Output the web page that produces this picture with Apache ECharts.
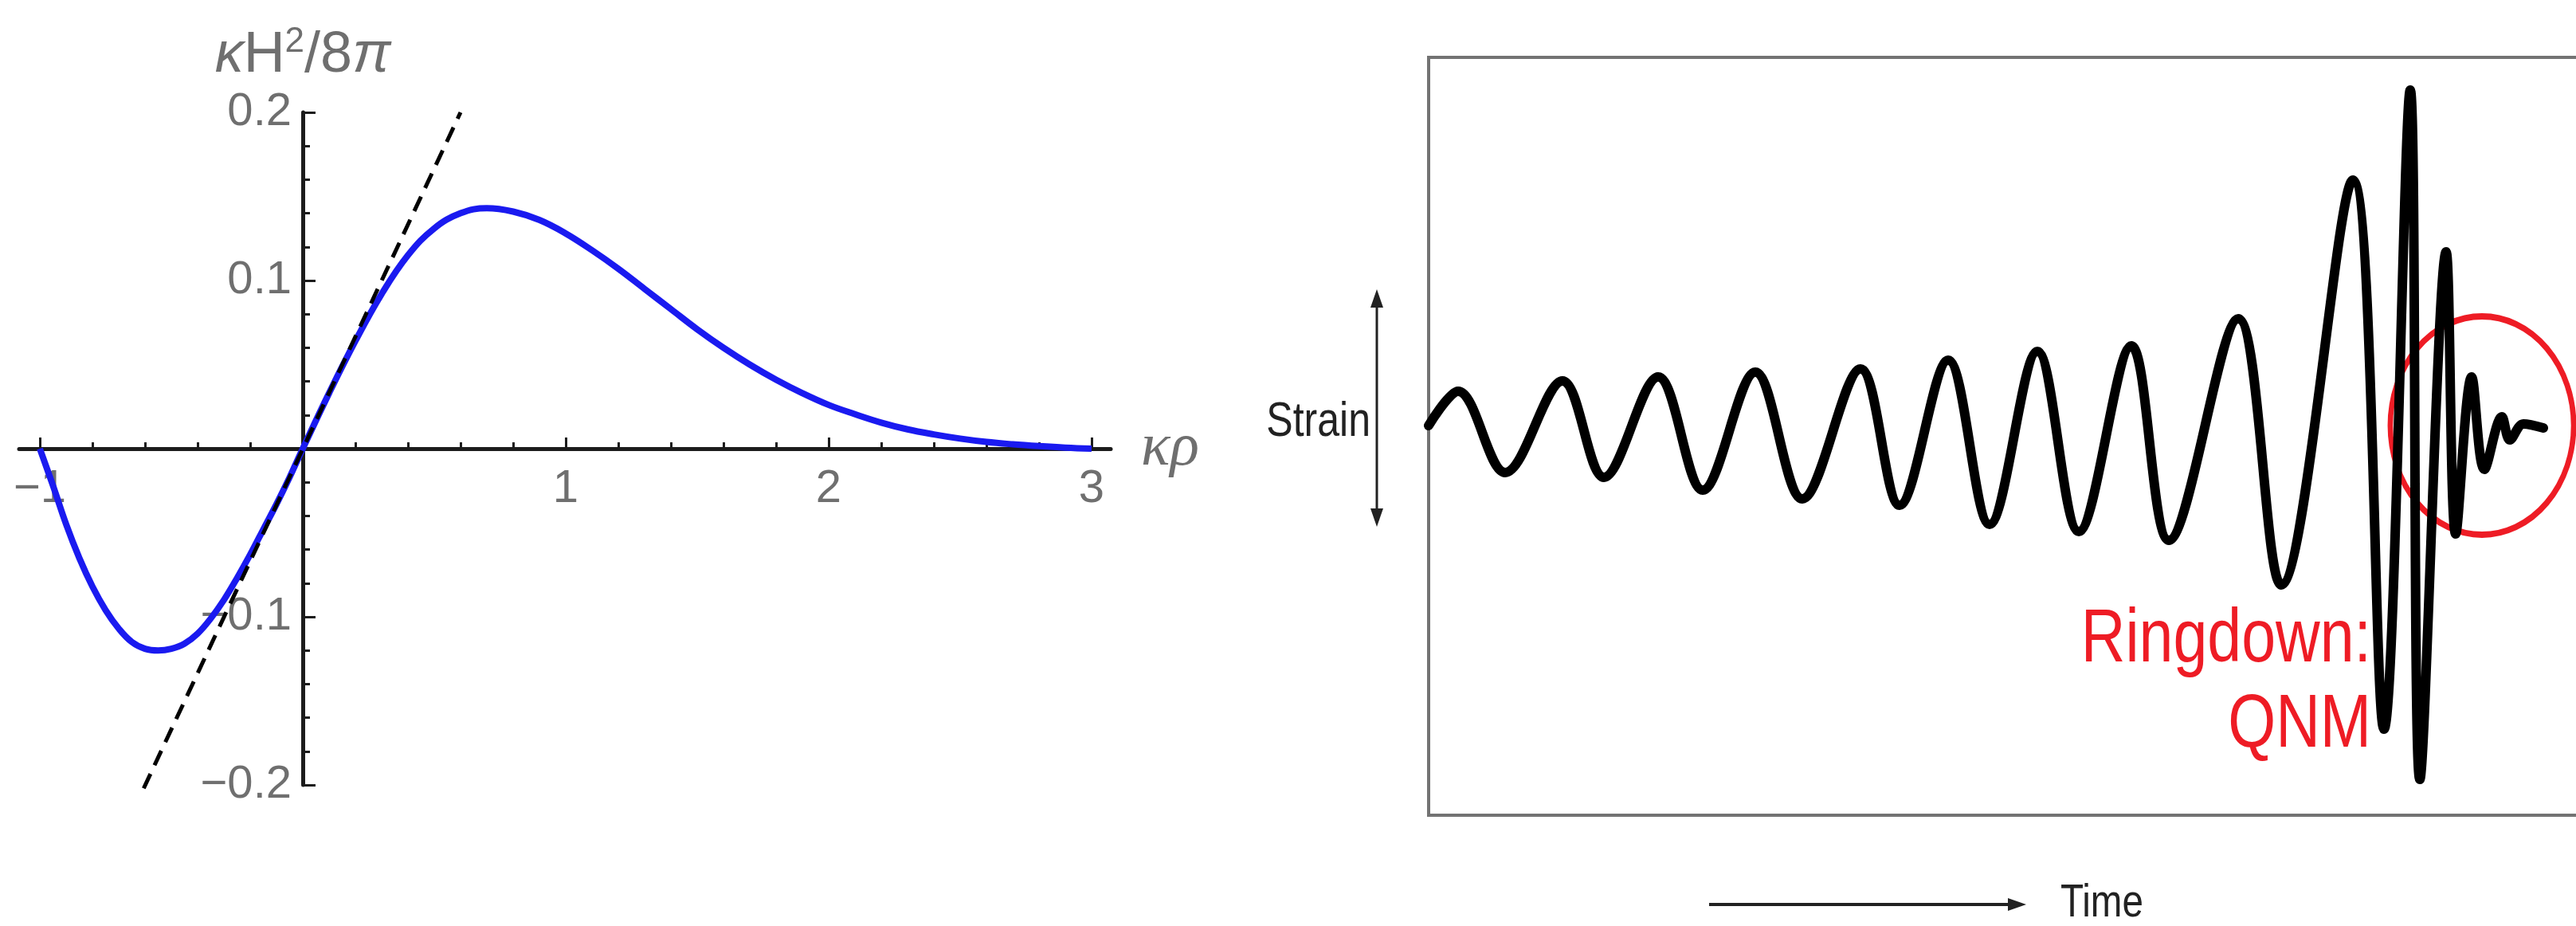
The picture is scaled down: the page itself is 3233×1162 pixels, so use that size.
<!DOCTYPE html>
<html>
<head>
<meta charset="utf-8">
<script src="https://cdn.jsdelivr.net/npm/echarts@6/dist/echarts.min.js"></script>
<style>
  html, body { margin: 0; padding: 0; background: #fff; }
  #chart { width: 3233px; height: 1162px; }
</style>
</head>
<body>
<div id="chart"></div>
<script>
// left panel: kH^2/8pi against k*rho
const rho = [-1, -0.95, -0.9, -0.85, -0.8, -0.75, -0.7, -0.65, -0.6, -0.55, -0.5, -0.45, -0.4, -0.35, -0.3,
  -0.25, -0.2, -0.15, -0.1, -0.05, 0, 0.1, 0.2, 0.3, 0.4, 0.5, 0.6, 0.7, 0.8, 0.9, 1.0,
  1.1, 1.2, 1.3, 1.4, 1.5, 1.6, 1.7, 1.8, 1.9, 2.0, 2.1, 2.2, 2.3, 2.4, 2.5, 2.6, 2.7, 2.8, 2.9, 3.0]
const hubble = [0, -0.022, -0.045, -0.065, -0.082, -0.096, -0.107, -0.115, -0.119, -0.12, -0.119, -0.116, -0.11, -0.101, -0.09,
  -0.077, -0.063, -0.048, -0.033, -0.017, 0, 0.033, 0.064, 0.092, 0.115, 0.131, 0.14, 0.143, 0.141, 0.136, 0.128,
  0.118, 0.107, 0.095, 0.083, 0.071, 0.06, 0.05, 0.041, 0.033, 0.026, 0.0205, 0.0155, 0.0115, 0.0085, 0.006, 0.004, 0.0026, 0.0015, 0.0006, 0]
// dashed tangent line at the origin
const tangentX = [-0.605, 0.6]
const tangentY = [-0.202, 0.2]
const xTickLabels = [-1, 1, 2, 3]
const yTickLabels = [-0.2, -0.1, 0.1, 0.2]

// right panel: strain waveform (peaks and troughs)
const time = [0, 3.7, 9.6, 16.8, 22.0, 28.8, 34.4, 41.0, 46.9, 54.2, 59.1, 65.2, 70.4, 76.4, 81.6, 88.2, 92.9,
  101.6, 107.0, 116.0, 119.9, 123.2, 124.4, 127.7, 128.9, 130.9, 132.5, 134.7, 135.7, 137.4, 139.9]
const strain = [0, 0.43, -0.59, 0.56, -0.65, 0.61, -0.81, 0.67, -0.92, 0.71, -1.0, 0.82, -1.24, 0.93, -1.33, 1.0, -1.44,
  1.34, -2.0, 3.08, -3.81, 4.21, -4.44, 2.18, -1.36, 0.61, -0.55, 0.11, -0.18, 0.02, -0.03]

const chart = echarts.init(document.getElementById('chart'))

const gray = '#6f6f6f'
const axisBlack = '#1c1c1c'
const minus = (v) => String(v).replace('-', '\u2212')
const font = 'Liberation Sans, Arial, sans-serif'

const option = {
  animation: false,
  backgroundColor: '#fff',
  textStyle: { fontFamily: font },
  grid: [
    // 0: x axis line only (runs a bit past -1 and 3), bottom edge = zero line
    { left: 24, top: 141, width: 1370, height: 422, outerBoundsMode: 'none' },
    // 1: x ticks + labels, bottom edge = zero line
    { left: 50, top: 141, width: 1320, height: 422, outerBoundsMode: 'none' },
    // 2: y axis, left edge = x 0
    { left: 380, top: 141, width: 990, height: 844, outerBoundsMode: 'none' },
    // 3: data grid
    { left: 50, top: 141, width: 1320, height: 844, outerBoundsMode: 'none' },
    // 4: waveform box
    { left: 1793, top: 72, width: 1460, height: 951, show: true, borderColor: '#737373', borderWidth: 4,
      backgroundColor: 'transparent', outerBoundsMode: 'none' }
  ],
  xAxis: [
    {
      gridIndex: 0, type: 'value', min: -1.08, max: 3.07, position: 'bottom',
      axisLine: { onZero: false, lineStyle: { color: axisBlack, width: 5 } },
      axisTick: { show: false }, axisLabel: { show: false }, splitLine: { show: false },
      name: '\u03ba\u03c1', nameLocation: 'end', nameGap: 38,
      nameTextStyle: { color: gray, fontSize: 76, fontStyle: 'italic', fontFamily: 'Liberation Serif, serif' }
    },
    {
      gridIndex: 1, type: 'value', min: -1, max: 3, interval: 1, position: 'bottom',
      axisLine: { show: false, onZero: false },
      axisTick: { inside: true, length: 14, lineStyle: { color: axisBlack, width: 3 } },
      minorTick: { show: true, splitNumber: 5, length: 8, lineStyle: { color: axisBlack, width: 3 } },
      axisLabel: { customValues: xTickLabels, formatter: minus, color: gray, fontSize: 58, margin: 22 },
      splitLine: { show: false }
    },
    { gridIndex: 2, type: 'value', min: 0, max: 3, show: false },
    { gridIndex: 3, type: 'value', min: -1, max: 3, show: false },
    { gridIndex: 4, type: 'value', min: 0, max: 146, show: false }
  ],
  yAxis: [
    { gridIndex: 0, type: 'value', min: 0, max: 0.2, show: false },
    { gridIndex: 1, type: 'value', min: 0, max: 0.2, show: false },
    {
      gridIndex: 2, type: 'value', min: -0.2, max: 0.2, interval: 0.1, position: 'left',
      axisLine: { show: true, onZero: false, lineStyle: { color: axisBlack, width: 5 } },
      axisTick: { inside: true, length: 16, lineStyle: { color: axisBlack, width: 3 } },
      minorTick: { show: true, splitNumber: 5, length: 9, lineStyle: { color: axisBlack, width: 3 } },
      axisLabel: {
        customValues: yTickLabels, formatter: (v) => minus(v.toFixed(1)), color: gray, fontSize: 58, margin: 14
      },
      splitLine: { show: false },
      name: '{i|\u03ba}H{s|2}/8{i|\u03c0}', nameLocation: 'end', nameGap: 32,
      nameTextStyle: {
        color: gray, fontSize: 72, align: 'center',
        rich: {
          i: { color: gray, fontSize: 72, fontStyle: 'italic' },
          s: { color: gray, fontSize: 44, padding: [0, 0, 34, 0] }
        }
      }
    },
    { gridIndex: 3, type: 'value', min: -0.2, max: 0.2, show: false },
    { gridIndex: 4, type: 'value', min: -4.89, max: 4.62, show: false }
  ],
  series: [
    {
      name: 'kH2/8pi', type: 'line', xAxisIndex: 3, yAxisIndex: 3,
      data: rho.map((r, i) => [r, hubble[i]]),
      smooth: 0.4, showSymbol: false, clip: false,
      lineStyle: { color: '#1a1af0', width: 8 }
    },
    {
      name: 'tangent', type: 'line', xAxisIndex: 3, yAxisIndex: 3,
      data: tangentX.map((r, i) => [r, tangentY[i]]),
      showSymbol: false, clip: false, z: 4,
      lineStyle: { color: '#000', width: 5, type: [20, 12] }
    },
    {
      name: 'strain', type: 'line', xAxisIndex: 4, yAxisIndex: 4,
      data: time.map((t, i) => [t, strain[i]]),
      smooth: 0.35, showSymbol: false, clip: false, z: 3,
      lineStyle: { color: '#000', width: 12, cap: 'round', join: 'round' }
    }
  ],
  graphic: [
    // ringdown circle
    {
      type: 'circle', x: 3115, y: 534, scaleX: 0.84, z: 1,
      shape: { cx: 0, cy: 0, r: 137 },
      style: { fill: 'none', stroke: '#ee1c25', lineWidth: 8 }
    },
    {
      type: 'text', x: 2976, y: 804, scaleX: 0.82, z: 5,
      style: { text: 'Ringdown:', fill: '#ee1c25', font: '94px "Liberation Sans", Arial, sans-serif', align: 'right', verticalAlign: 'middle' }
    },
    {
      type: 'text', x: 2976, y: 911, scaleX: 0.82, z: 5,
      style: { text: 'QNM', fill: '#ee1c25', font: '94px "Liberation Sans", Arial, sans-serif', align: 'right', verticalAlign: 'middle' }
    },
    // strain double arrow
    {
      type: 'line', z: 5, shape: { x1: 1728, y1: 372, x2: 1728, y2: 652 },
      style: { stroke: '#222', lineWidth: 3 }
    },
    { type: 'polygon', z: 5, shape: { points: [[1728, 363], [1720, 386], [1736, 386]] }, style: { fill: '#222' } },
    { type: 'polygon', z: 5, shape: { points: [[1728, 661], [1720, 638], [1736, 638]] }, style: { fill: '#222' } },
    {
      type: 'text', x: 1720, y: 530, scaleX: 0.82, z: 5,
      style: { text: 'Strain', fill: '#222', font: '61px "Liberation Sans", Arial, sans-serif', align: 'right', verticalAlign: 'middle' }
    },
    // time arrow
    {
      type: 'line', z: 5, shape: { x1: 2145, y1: 1135, x2: 2534, y2: 1135 },
      style: { stroke: '#222', lineWidth: 4 }
    },
    { type: 'polygon', z: 5, shape: { points: [[2543, 1135], [2520, 1127], [2520, 1143]] }, style: { fill: '#222' } },
    {
      type: 'text', x: 2586, y: 1134, scaleX: 0.82, z: 5,
      style: { text: 'Time', fill: '#222', font: '58px "Liberation Sans", Arial, sans-serif', align: 'left', verticalAlign: 'middle' }
    }
  ]
}

chart.setOption(option)
</script>
</body>
</html>
